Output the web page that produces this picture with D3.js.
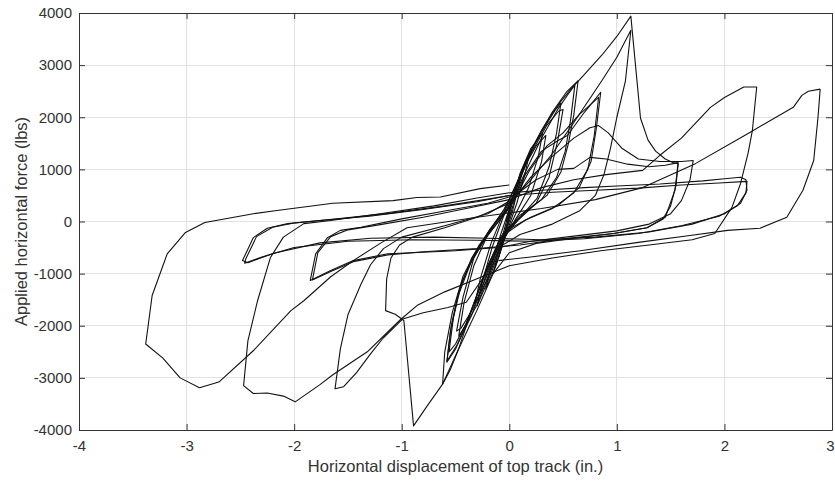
<!DOCTYPE html>
<html><head><meta charset="utf-8">
<script src="https://cdn.jsdelivr.net/npm/d3@7"></script>
<style>
body{margin:0;background:#fff}
text{font-family:Arial,"Liberation Sans",Helvetica,sans-serif}
</style>
</head><body>
<svg id="chart" width="835" height="482"></svg>
<script>
// ---- tick labels / titles ----
const xTicks = [-4, -3, -2, -1, 0, 1, 2, 3];
const yTicks = [-4000, -3000, -2000, -1000, 0, 1000, 2000, 3000, 4000];
const xTitle = "Horizontal displacement of top track (in.)";
const yTitle = "Applied horizontal force (lbs)";

// ---- data: [displacement (in.), force (lbs)] per load cycle ----
const cycleA1 = [[-0.03,0],[0.03,450],[0.08,780],[0.05,420],[0.0,60],[-0.05,-320],[-0.1,-700],[-0.07,-400],[-0.02,-20],[0.02,300]];
const cycleA2 = [[0.02,300],[0.07,720],[0.13,1050],[0.09,700],[0.03,200],[-0.03,-200],[-0.09,-620],[-0.15,-1000],[-0.11,-650],[-0.04,-100],[0.02,330]];
const cycleA3 = [[0.02,330],[0.1,900],[0.19,1320],[0.15,950],[0.07,350],[-0.03,-250],[-0.12,-820],[-0.22,-1300],[-0.17,-850],[-0.08,-250],[0.01,300]];
const cycleA4 = [[0.01,300],[0.1,920],[0.2,1400],[0.31,1700],[0.27,1250],[0.18,650],[0.06,150],[-0.06,-380],[-0.17,-1000],[-0.3,-1620],[-0.25,-1150],[-0.16,-500],[-0.05,120],[0.04,500]];
const cycleA5 = [[0.04,500],[0.14,1050],[0.25,1450],[0.34,1650],[0.3,1150],[0.2,500],[0.06,50],[-0.08,-450],[-0.2,-1100],[-0.32,-1580],[-0.27,-1100],[-0.17,-420],[-0.05,180],[0.04,520]];
const cycleB1 = [[0.04,520],[0.15,1150],[0.3,1750],[0.4,2080],[0.48,2270],[0.44,1700],[0.37,1050],[0.26,450],[0.1,80],[-0.05,-280],[-0.16,-850],[-0.3,-1600],[-0.41,-2000],[-0.47,-2200],[-0.42,-1550],[-0.33,-850],[-0.2,-250],[-0.05,230]];
const cycleB2 = [[-0.05,230],[0.08,750],[0.2,1300],[0.35,1850],[0.46,2120],[0.5,2150],[0.45,1550],[0.37,850],[0.25,350],[0.08,20],[-0.07,-330],[-0.2,-1000],[-0.33,-1650],[-0.45,-2050],[-0.49,-2100],[-0.43,-1450],[-0.33,-700],[-0.18,-150],[-0.04,250]];
const cycleC1 = [[-0.04,250],[0.1,880],[0.25,1550],[0.4,2100],[0.53,2480],[0.64,2700],[0.6,2050],[0.55,1500],[0.48,950],[0.35,500],[0.15,180],[-0.05,-220],[-0.2,-950],[-0.35,-1800],[-0.48,-2350],[-0.58,-2680],[-0.54,-2000],[-0.47,-1350],[-0.35,-700],[-0.18,-150],[0.0,280]];
const cycleC2 = [[0.0,280],[0.15,950],[0.3,1600],[0.45,2150],[0.55,2450],[0.61,2620],[0.57,1950],[0.52,1350],[0.44,850],[0.3,420],[0.1,120],[-0.08,-300],[-0.25,-1150],[-0.4,-1950],[-0.5,-2350],[-0.56,-2500],[-0.52,-1850],[-0.44,-1150],[-0.3,-550],[-0.12,-50],[0.02,320]];
const cycleD1 = [[0.02,320],[0.15,900],[0.3,1350],[0.45,1550],[0.54,1650],[0.7,2100],[0.85,2480],[0.81,1800],[0.76,1150],[0.65,650],[0.45,300],[0.2,80],[-0.05,-200],[-0.2,-850],[-0.35,-1700],[-0.47,-2440],[-0.55,-2850],[-0.62,-3120],[-0.6,-2500],[-0.53,-1750],[-0.43,-1050],[-0.28,-450],[-0.1,50],[0.03,350]];
const cycleD2 = [[0.03,350],[0.18,950],[0.35,1450],[0.5,1700],[0.65,2050],[0.83,2380],[0.79,1650],[0.73,1000],[0.6,550],[0.4,250],[0.15,30],[-0.08,-300],[-0.22,-950],[-0.38,-1850],[-0.5,-2450],[-0.58,-2700],[-0.55,-2150],[-0.48,-1450],[-0.36,-800],[-0.2,-250],[-0.02,200]];
const cycleE1 = [[-0.02,200],[0.1,800],[0.2,1350],[0.3,1720],[0.47,2280],[0.58,2560],[0.68,2780],[0.86,3190],[1.0,3550],[1.13,3940],[1.22,1980],[1.29,1560],[1.36,1350],[1.45,1200],[1.52,1130],[1.57,1110],[1.55,700],[1.5,300],[1.43,50],[1.28,-120],[0.97,-230],[0.6,-320],[0.25,-420],[0.0,-600],[-0.15,-1000],[-0.3,-1700],[-0.47,-2440],[-0.62,-3120],[-0.75,-3500],[-0.89,-3920],[-0.98,-1900],[-1.06,-1780],[-1.15,-1710],[-1.14,-1100],[-1.1,-700],[-1.02,-450],[-0.9,-300],[-0.6,-120],[-0.3,80],[0.0,350]];
const cycleE2 = [[0.0,350],[0.2,800],[0.4,1300],[0.6,1900],[0.86,2700],[1.0,3150],[1.13,3670],[1.08,2700],[1.0,2000],[0.94,1400],[0.88,900],[0.8,500],[0.65,200],[0.4,-50],[0.1,-250],[-0.1,-500],[-0.25,-1100],[-0.4,-1550],[-0.57,-1650],[-0.8,-1750],[-0.99,-1870],[-1.17,-2230],[-1.29,-2540],[-1.42,-2900],[-1.54,-3170],[-1.62,-3210],[-1.57,-2440],[-1.5,-1790],[-1.38,-1210],[-1.29,-830],[-1.17,-520],[-1.0,-300],[-0.6,-80],[-0.2,150],[0.05,450]];
const cycleF1 = [[0.05,450],[0.2,850],[0.4,1250],[0.6,1600],[0.75,1800],[0.83,1840],[0.92,1700],[1.05,1400],[1.2,1200],[1.4,1150],[1.6,1150],[1.71,1170],[1.68,800],[1.6,400],[1.5,150],[1.3,-50],[1.0,-180],[0.6,-280],[0.2,-380],[-0.1,-500],[-0.5,-560],[-0.9,-600],[-1.13,-620],[-1.45,-750],[-1.66,-940],[-1.85,-1130],[-1.8,-620],[-1.69,-310],[-1.57,-170],[-1.38,-110],[-1.0,50],[-0.6,200],[-0.2,350],[0.05,500]];
const cycleF2 = [[0.05,500],[0.25,800],[0.45,1000],[0.6,1020],[0.75,1230],[0.9,1200],[1.1,1100],[1.3,1050],[1.45,1080],[1.57,1130],[1.54,600],[1.45,80],[1.28,-120],[0.97,-230],[0.5,-330],[0.1,-450],[-0.3,-520],[-0.8,-580],[-1.13,-640],[-1.45,-770],[-1.66,-960],[-1.83,-1120],[-1.78,-600],[-1.66,-290],[-1.5,-160],[-1.2,-60],[-0.8,80],[-0.4,250],[0.0,420]];
const cycleG1 = [[0.0,420],[0.3,650],[0.6,800],[0.9,900],[1.24,980],[1.4,1270],[1.6,1600],[1.87,2190],[2.0,2380],[2.18,2580],[2.3,2580],[2.26,1750],[2.22,1310],[2.15,730],[2.07,270],[1.91,-230],[1.7,-350],[1.3,-450],[0.85,-560],[0.4,-700],[0.0,-850],[-0.3,-1100],[-0.6,-1350],[-0.85,-1600],[-1.01,-1880],[-1.13,-2120],[-1.32,-2500],[-1.64,-2940],[-1.76,-3130],[-1.99,-3460],[-2.1,-3350],[-2.25,-3290],[-2.38,-3300],[-2.47,-3150],[-2.43,-2290],[-2.34,-1520],[-2.22,-690],[-2.1,-300],[-1.91,-40],[-1.66,20],[-1.2,150],[-0.7,300],[-0.3,450],[0.0,550]];
const cycleG2 = [[0.0,550],[0.3,600],[0.7,650],[1.0,680],[1.4,720],[1.8,780],[2.0,820],[2.15,850],[2.2,800],[2.21,600],[2.15,350],[2.0,150],[1.7,-50],[1.3,-200],[0.8,-300],[0.3,-350],[-0.2,-320],[-0.7,-300],[-1.29,-320],[-1.76,-410],[-2.19,-610],[-2.43,-790],[-2.48,-750],[-2.38,-310],[-2.25,-130],[-2.06,-40],[-1.76,20],[-1.3,100],[-0.8,230],[-0.3,380],[0.0,500]];
const cycleG3 = [[0.0,500],[0.4,560],[0.8,600],[1.2,640],[1.6,700],[1.95,740],[2.21,770],[2.2,550],[2.12,300],[1.95,100],[1.6,-80],[1.2,-230],[0.7,-330],[0.2,-380],[-0.3,-360],[-0.9,-350],[-1.5,-380],[-2.0,-500],[-2.3,-680],[-2.46,-800],[-2.45,-720],[-2.35,-290],[-2.2,-110],[-2.0,-30],[-1.6,50],[-1.1,160],[-0.6,300],[-0.2,430],[0.0,500]];
const cycleH1 = [[2.89,2540],[2.78,2500],[2.72,2420],[2.64,2190],[2.22,1690],[1.73,1110],[1.24,650],[0.8,420],[0.3,250],[-0.3,80],[-0.95,-120],[-1.2,-420],[-1.45,-750],[-1.66,-1060],[-1.91,-1520],[-2.03,-1710],[-2.38,-2480],[-2.7,-3080],[-2.88,-3190],[-3.06,-3000],[-3.22,-2620],[-3.38,-2350],[-3.32,-1420],[-3.18,-620],[-3.01,-210],[-2.83,-20],[-2.38,150],[-2.16,210],[-1.64,350],[-1.08,400],[-0.86,460],[-0.64,470],[-0.27,630],[0.0,700]];
const cycleH2 = [[2.89,2540],[2.87,2000],[2.83,1170],[2.73,600],[2.58,80],[2.33,-130],[2.03,-170],[1.68,-270],[1.2,-400],[0.66,-560],[0.2,-680],[-0.1,-750]];

const cycles = [cycleA1,cycleA2,cycleA3,cycleA4,cycleA5,cycleB1,cycleB2,cycleC1,cycleC2,
                cycleD1,cycleD2,cycleE1,cycleE2,cycleF1,cycleF2,cycleG1,cycleG2,cycleG3,cycleH1,cycleH2];

// ---- drawing ----
const plot = {left: 79, right: 832, top: 13, bottom: 430};
const svg = d3.select("#chart");

const x = d3.scaleLinear().domain([-4, 3]).range([plot.left, plot.right]);
const y = d3.scaleLinear().domain([-4000, 4000]).range([plot.bottom, plot.top]);

// grid
const grid = svg.append("g").attr("stroke", "#e2e2e2").attr("stroke-width", 1).attr("shape-rendering", "crispEdges");
grid.selectAll(".gx").data(xTicks).join("line")
  .attr("x1", d => x(d)).attr("x2", d => x(d)).attr("y1", plot.top).attr("y2", plot.bottom);
grid.selectAll(".gy").data(yTicks).join("line")
  .attr("x1", plot.left).attr("x2", plot.right).attr("y1", d => y(d)).attr("y2", d => y(d));

// curves
svg.append("defs").append("clipPath").attr("id", "clip")
  .append("rect").attr("x", plot.left).attr("y", plot.top)
  .attr("width", plot.right - plot.left).attr("height", plot.bottom - plot.top);
const line = d3.line().x(d => x(d[0])).y(d => y(d[1]));
svg.append("g").attr("clip-path", "url(#clip)")
  .selectAll("path").data(cycles).join("path")
  .attr("d", line).attr("fill", "none").attr("stroke", "#111")
  .attr("stroke-width", 1.1).attr("stroke-linejoin", "round");

// axes
const axColor = "#333";
const fmt = d => String(d);
function styleAxis(g, showText) {
  g.selectAll(".domain").attr("stroke", axColor);
  g.selectAll(".tick line").attr("stroke", axColor);
  g.selectAll(".tick text").attr("fill", "#333").style("font-size", "15px")
    .style("font-family", "Arial, 'Liberation Sans', sans-serif");
  if (!showText) g.selectAll(".tick text").remove();
}
svg.append("g").attr("transform", `translate(0,${plot.bottom})`)
  .call(d3.axisBottom(x).tickValues(xTicks).tickSizeInner(-6).tickSizeOuter(0).tickPadding(10).tickFormat(fmt))
  .call(g => styleAxis(g, true))
  .call(g => g.selectAll(".tick text").filter(d => d === 3).attr("dx", "-2px"));
svg.append("g").attr("transform", `translate(0,${plot.top})`)
  .call(d3.axisTop(x).tickValues(xTicks).tickSizeInner(-6).tickSizeOuter(0))
  .call(g => styleAxis(g, false));
svg.append("g").attr("transform", `translate(${plot.left},0)`)
  .call(d3.axisLeft(y).tickValues(yTicks).tickSizeInner(-6).tickSizeOuter(0).tickPadding(7).tickFormat(fmt))
  .call(g => styleAxis(g, true));
svg.append("g").attr("transform", `translate(${plot.right},0)`)
  .call(d3.axisRight(y).tickValues(yTicks).tickSizeInner(-6).tickSizeOuter(0))
  .call(g => styleAxis(g, false));

// titles
svg.append("text").attr("x", (plot.left + plot.right) / 2).attr("y", 472)
  .attr("text-anchor", "middle").attr("fill", "#333").style("font-size", "16.5px").text(xTitle);
svg.append("text").attr("transform", `translate(27,${(plot.top + plot.bottom) / 2}) rotate(-90)`)
  .attr("text-anchor", "middle").attr("fill", "#333").style("font-size", "16.5px").text(yTitle);
</script>
</body></html>
